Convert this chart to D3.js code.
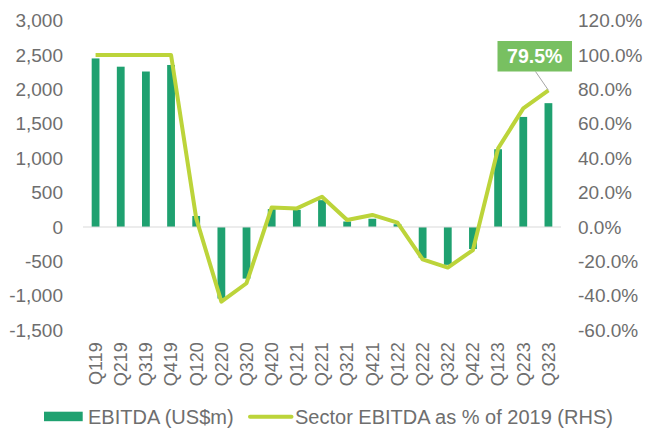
<!DOCTYPE html>
<html><head><meta charset="utf-8">
<script src="https://cdn.jsdelivr.net/npm/d3@7"></script>
<style>
html,body{margin:0;padding:0;background:#fff;}
svg{display:block;font-family:"Liberation Sans",Arial,sans-serif;}
</style></head>
<body><svg id="c" width="646" height="428"></svg>
<script>
const categories = ["Q119","Q219","Q319","Q419","Q120","Q220","Q320","Q420","Q121","Q221","Q321","Q421","Q122","Q222","Q322","Q422","Q123","Q223","Q323"];
const ebitda = [2450,2330,2260,2355,160,-1040,-750,260,250,390,80,120,40,-450,-550,-320,1130,1600,1800];
const sectorPct = [100,100,100,100,5,-43.4,-32.7,11.4,10.8,17.6,4.1,7,2.5,-18.8,-23.6,-13.4,45.7,69,79.5];
const leftTicks = [-1500,-1000,-500,0,500,1000,1500,2000,2500,3000];
const rightTicks = [-60,-40,-20,0,20,40,60,80,100,120];
const seriesNames = ["EBITDA (US$m)","Sector EBITDA as % of 2019 (RHS)"];
const calloutText = "79.5%";

const loc = d3.formatLocale({decimal: ".", thousands: ",", grouping: [3], currency: ["$", ""], minus: "-"});
const barColor = "#1fa170", lineColor = "#bcd43a", textColor = "#6e6e6e", boxColor = "#78c061";
const svg = d3.select("#c");
const L = 83, R = 561, T = 20.6, B = 330.2;

const x = d3.scaleBand().domain(categories).range([L, R]).paddingInner(0.69).paddingOuter(0.345);
const yL = d3.scaleLinear().domain([-1500, 3000]).range([B, T]);
const yR = d3.scaleLinear().domain([-60, 120]).range([B, T]);
const xc = d => x(d) + x.bandwidth() / 2;

// bars
svg.append("g").selectAll("rect").data(categories).join("rect")
  .attr("x", d => x(d))
  .attr("width", x.bandwidth())
  .attr("y", (d, i) => Math.min(yL(ebitda[i]), yL(0)))
  .attr("height", (d, i) => Math.abs(yL(ebitda[i]) - yL(0)))
  .attr("fill", barColor);

// zero line
svg.append("line").attr("x1", L).attr("x2", R).attr("y1", yL(0)).attr("y2", yL(0))
  .attr("stroke", "#d9d9d9").attr("stroke-width", 1.2);

// left axis
const axL = svg.append("g").attr("transform", `translate(${L},0)`)
  .call(d3.axisLeft(yL).tickValues(leftTicks).tickSize(0).tickPadding(20).tickFormat(loc.format(",")));
axL.select(".domain").remove();
axL.selectAll("text").attr("fill", textColor).style("font-size", "19px").attr("font-family", "Liberation Sans, Arial, sans-serif");

// right axis
const pf = loc.format(".1f");
const axR = svg.append("g").attr("transform", `translate(${R},0)`)
  .call(d3.axisRight(yR).tickValues(rightTicks).tickSize(0).tickPadding(17).tickFormat(d => pf(d) + "%"));
axR.select(".domain").remove();
axR.selectAll("text").attr("fill", textColor).style("font-size", "19px").attr("font-family", "Liberation Sans, Arial, sans-serif");

// x labels
const axX = svg.append("g").attr("transform", `translate(0,${B})`)
  .call(d3.axisBottom(x).tickSize(0).tickPadding(0));
axX.select(".domain").remove();
axX.selectAll("text")
  .attr("fill", textColor).style("font-size", "18px").attr("font-family", "Liberation Sans, Arial, sans-serif")
  .attr("text-anchor", "end")
  .attr("transform", "translate(0,12) rotate(-90)")
  .attr("x", 0).attr("y", 0).attr("dy", "0.35em");

// line
const line = d3.line().x((d, i) => xc(categories[i])).y(d => yR(d));
svg.append("path").datum(sectorPct).attr("d", line)
  .attr("fill", "none").attr("stroke", lineColor).attr("stroke-width", 4).attr("stroke-linejoin", "round");

// callout
const lastI = categories.length - 1;
const px = xc(categories[lastI]), py = yR(sectorPct[lastI]);
const bx = 497.5, by = 41, bw = 74.5, bh = 30.5;
svg.append("line").attr("x1", 535.5).attr("y1", by + bh).attr("x2", px).attr("y2", py)
  .attr("stroke", "#a6a6a6").attr("stroke-width", 1);
svg.append("rect").attr("x", bx).attr("y", by).attr("width", bw).attr("height", bh).attr("fill", boxColor);
svg.append("text").attr("x", bx + bw / 2).attr("y", by + bh / 2).attr("dy", "0.36em")
  .attr("text-anchor", "middle").attr("fill", "#fff").style("font-size", "19.5px").style("font-weight", "bold")
  .text(calloutText);

// legend
const lg = svg.append("g");
lg.append("rect").attr("x", 44).attr("y", 411.7).attr("width", 38.7).attr("height", 9.5).attr("fill", barColor);
lg.append("text").attr("x", 88).attr("y", 416.5).attr("dy", "0.36em").attr("fill", textColor)
  .style("font-size", "20px").text(seriesNames[0]);
lg.append("line").attr("x1", 250).attr("x2", 291.5).attr("y1", 416.7).attr("y2", 416.7)
  .attr("stroke", lineColor).attr("stroke-width", 4).attr("stroke-linecap", "round");
lg.append("text").attr("x", 295).attr("y", 416.5).attr("dy", "0.36em").attr("fill", textColor)
  .style("font-size", "20px").text(seriesNames[1]);
</script></body></html>
